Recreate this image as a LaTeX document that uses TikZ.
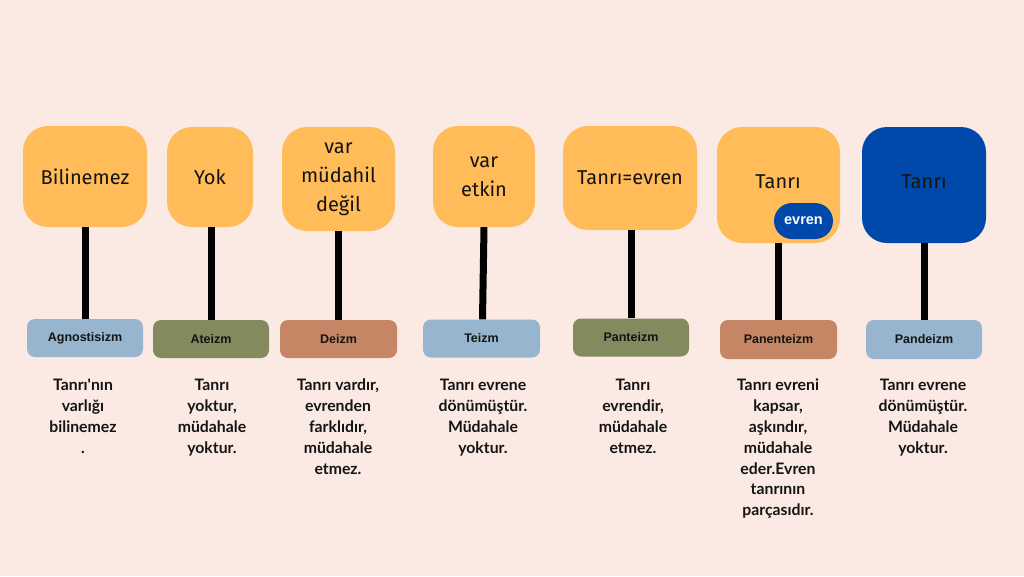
\documentclass[tikz,border=0pt]{standalone}
\usepackage{fontspec}
\setmainfont{Fira Sans}
\newfontfamily\descfont{Lato}
\newfontfamily\labfont{Liberation Sans}
\definecolor{bgc}{RGB}{250,234,227}
\definecolor{orng}{RGB}{255,188,89}
\definecolor{dblue}{RGB}{0,73,170}
\definecolor{lblue}{RGB}{151,181,206}
\definecolor{olive}{RGB}{131,138,94}
\definecolor{brwn}{RGB}{196,134,100}
\definecolor{txt}{RGB}{20,20,20}
\tikzset{
  topbox/.style={fill=orng, rounded corners=25pt, align=center, text=txt,
    font=\fontsize{20}{29}\selectfont, inner sep=0pt},
  labbox/.style={rounded corners=8pt, minimum width=116pt, minimum height=38pt,
    inner sep=0pt, text=txt, font=\labfont\bfseries\fontsize{12.5}{14}\selectfont},
  stem/.style={line width=7pt, black},
  desc/.style={anchor=north, align=center, inner sep=0pt, text=txt,
    font=\descfont\bfseries\fontsize{15.8}{20.8}\selectfont},
  pill/.style={fill=dblue, rounded corners=18pt, minimum width=59pt, minimum height=36pt,
    inner sep=0pt, text=white, font=\labfont\bfseries\fontsize{14.5}{16}\selectfont}
}
\begin{document}
\begin{tikzpicture}[x=1pt,y=-1pt]
\fill[bgc] (0,0) rectangle (1024,576);
\useasboundingbox (0,0) rectangle (1024,576);
% top boxes
\node[topbox, minimum width=124pt, minimum height=101pt] (b1) at (85,176.5) {Bilinemez};
\node[topbox, minimum width=86pt, minimum height=100pt] (b2) at (210,177) {Yok};
\node[topbox, minimum width=113pt, minimum height=104pt] (b3) at (338.5,179) {var\\müdahil\\değil};
\node[topbox, minimum width=102pt, minimum height=101pt] (b4) at (484,176.5) {var\\etkin};
\node[topbox, minimum width=134pt, minimum height=104pt] (b5) at (630,178) {Tanrı=evren};
\node[topbox, minimum width=123pt, minimum height=116pt] (b6) at (778.5,185) {};
\node[txt, font=\fontsize{20}{29}\selectfont] (t6) at (778,182) {Tanrı};
\node[pill] (ev) at (803.5,221) {evren};
\node[topbox, fill=dblue, minimum width=124pt, minimum height=116pt] (b7) at (924,185) {};
\node[txt, font=\fontsize{20}{29}\selectfont] (t7) at (924,182) {Tanrı};
% labels
\node[labbox, fill=lblue] (l1) at (85,338) {Agnostisizm};
\node[labbox, fill=olive] (l2) at (211,339) {Ateizm};
\node[labbox, fill=brwn, minimum width=117pt] (l3) at (338.5,339) {Deizm};
\node[labbox, fill=lblue, minimum width=117pt] (l4) at (481.5,338.5) {Teizm};
\node[labbox, fill=olive] (l5) at (631,337.5) {Panteizm};
\node[labbox, fill=brwn, minimum width=117pt, minimum height=39pt] (l6) at (778.5,339.5) {Panenteizm};
\node[labbox, fill=lblue, minimum height=39pt] (l7) at (924,339.5) {Pandeizm};
% stems
\draw[stem] (b1.south) -- (l1.north);
\draw[stem] ([xshift=1pt]b2.south) -- (l2.north);
\draw[stem] (b3.south) -- (l3.north);
\draw[stem] (b4.south) -- ([xshift=1pt]l4.north);
\draw[stem] ([xshift=1pt]b5.south) -- (l5.north);
\draw[stem] (b6.south) -- (l6.north);
\draw[stem] (b7.south) -- (l7.north);
% descriptions
\node[desc] (d1) at (83,379) {Tanrı'nın\\varlığı\\bilinemez\\.};
\node[desc] (d2) at (212,379) {Tanrı\\yoktur,\\müdahale\\yoktur.};
\node[desc] (d3) at (338,379) {Tanrı vardır,\\evrenden\\farklıdır,\\müdahale\\etmez.};
\node[desc] (d4) at (483,379) {Tanrı evrene\\dönümüştür.\\Müdahale\\yoktur.};
\node[desc] (d5) at (633,379) {Tanrı\\evrendir,\\müdahale\\etmez.};
\node[desc] (d6) at (778,379) {Tanrı evreni\\kapsar,\\aşkındır,\\müdahale\\eder.Evren\\tanrının\\parçasıdır.};
\node[desc] (d7) at (923,379) {Tanrı evrene\\dönümüştür.\\Müdahale\\yoktur.};
\end{tikzpicture}
\end{document}
